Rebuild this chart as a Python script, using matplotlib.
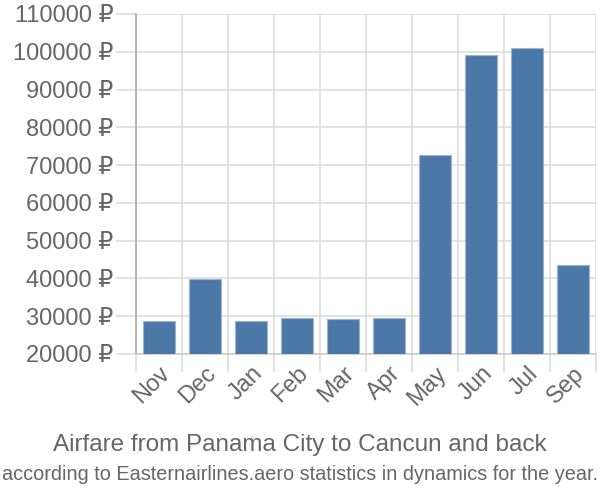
import matplotlib
matplotlib.use("Agg")
import matplotlib.pyplot as plt

months = ["Nov", "Dec", "Jan", "Feb", "Mar", "Apr", "May", "Jun", "Jul", "Sep"]
prices = [28640, 39930, 28640, 29430, 29170, 29430, 72590, 99200, 101130, 43440]
yticks = list(range(20000, 110001, 10000))
title = "Airfare from Panama City to Cancun and back"
subtitle = "according to Easternairlines.aero statistics in dynamics for the year."

plt.rcParams['font.family'] = ['Liberation Sans', 'DejaVu Sans']

fig = plt.figure(figsize=(6, 5), dpi=100)
ax = fig.add_axes([136/600, 1-354/500, 460/600, 340/500])

x = list(range(len(months)))
ax.bar(x, prices, width=0.71, color="#4c78a8", edgecolor="#9db3d3", linewidth=0.8, zorder=3)

ax.set_xlim(-0.5, len(months) - 0.5)
ax.set_ylim(20000, 110000)

ax.set_yticks(yticks)
ax.set_yticklabels([f"{v} ₽" for v in yticks], fontsize=17, color="#666666")
ax.set_xticks([i - 0.5 for i in range(len(months) + 1)], minor=False)
ax.set_xticklabels([""] * (len(months) + 1))
ax.set_xticks(x, minor=True)
ax.set_xticklabels(months, minor=True, rotation=45, ha="right", va="top",
                   rotation_mode="anchor", fontsize=17, color="#666666")

ax.tick_params(axis="x", which="major", length=13, color="#dddddd", width=1.2)
ax.tick_params(axis="x", which="minor", length=0, pad=6)
ax.tick_params(axis="y", length=14.4, color="#dddddd", width=1.2, pad=2)

ax.grid(True, which="major", color="#dddddd", linewidth=1.2, zorder=0)
for s in ["top", "right"]:
    ax.spines[s].set_visible(False)
ax.spines["left"].set_color("#aaaaaa")
ax.spines["left"].set_linewidth(1.2)
ax.spines["bottom"].set_color("#cccccc")
ax.spines["bottom"].set_linewidth(1.2)

fig.text(0.5, 1-445/500, title, ha="center", va="center", fontsize=17.5, color="#666666")
fig.text(0.5, 1-474/500, subtitle, ha="center", va="center", fontsize=14.3, color="#666666")

fig.savefig("out.png", dpi=100)
